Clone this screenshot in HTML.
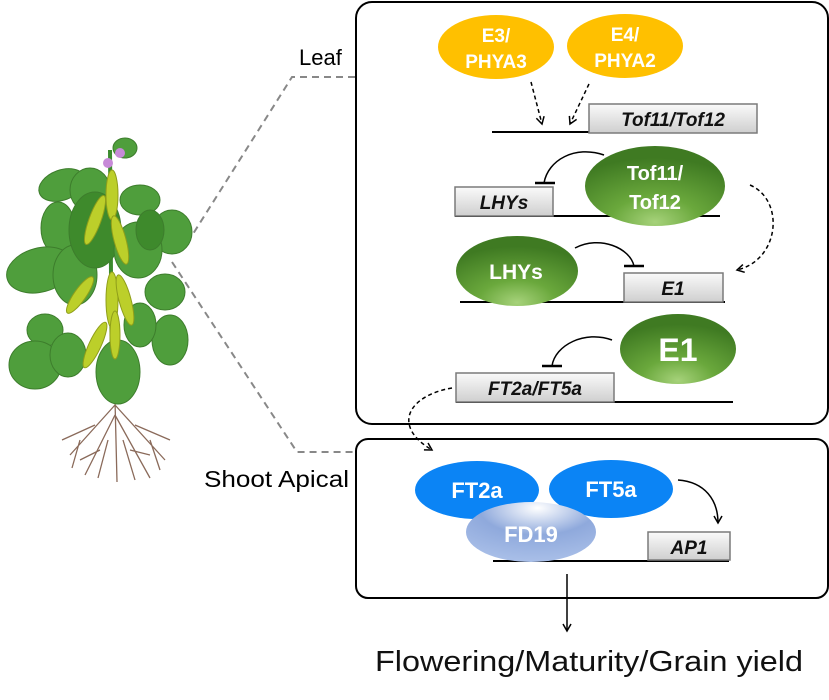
<!DOCTYPE html><html><head><style>body{margin:0;background:#fff}svg{display:block}</style></head><body>
<svg width="829" height="700" viewBox="0 0 829 700" xmlns="http://www.w3.org/2000/svg" font-family="Liberation Sans, sans-serif">
<defs>
<linearGradient id="gb" x1="0" y1="0" x2="0" y2="1"><stop offset="0" stop-color="#fafafa"/><stop offset="1" stop-color="#cfcfcf"/></linearGradient>
<radialGradient id="gg" cx="0.5" cy="0.95" r="0.8"><stop offset="0" stop-color="#a6d27a"/><stop offset="0.4" stop-color="#6aa83c"/><stop offset="1" stop-color="#3f7a22"/></radialGradient>
<radialGradient id="fd" cx="0.55" cy="0.1" r="0.9"><stop offset="0" stop-color="#ffffff"/><stop offset="0.5" stop-color="#8fa9dc"/><stop offset="1" stop-color="#a9bfe8"/></radialGradient>
<marker id="ar" markerWidth="10" markerHeight="10" refX="8" refY="5" orient="auto" markerUnits="userSpaceOnUse"><path d="M1,1 L8,5 L1,9" fill="none" stroke="#000" stroke-width="1.5"/></marker>
</defs>
<rect x="356" y="2" width="472" height="422" rx="16" fill="none" stroke="#000" stroke-width="2"/>
<rect x="356" y="439" width="472" height="159" rx="12" fill="none" stroke="#000" stroke-width="2"/>
<g stroke="#888" stroke-width="2" stroke-dasharray="7,5" fill="none">
<path d="M355,77 L292,77 L186,245"/><path d="M172,262 L297,452 L355,452"/></g>
<text x="299" y="65" font-size="22">Leaf</text>
<text x="204" y="487" font-size="23" textLength="145" lengthAdjust="spacingAndGlyphs">Shoot Apical</text>
<!-- plant -->
<g>
<g stroke="#8a6a5a" stroke-width="1.3" fill="none">
<path d="M115,400 L117,482 M115,405 L70,455 M115,405 L165,460 M115,415 L85,475 M115,415 L150,478 M95,425 L62,440 M135,425 L170,440 M108,440 L98,478 M123,440 L135,480 M80,440 L72,468 M150,440 L160,470 M100,450 L80,460 M130,450 L150,455"/></g>
<path d="M110,150 L112,400" stroke="#3b8a2e" stroke-width="4"/>
<g fill="#4f9e3c" stroke="#3d7d2c" stroke-width="1">
<ellipse cx="62" cy="185" rx="24" ry="15" transform="rotate(-20 62 185)"/><ellipse cx="90" cy="190" rx="20" ry="22"/><ellipse cx="58" cy="228" rx="17" ry="26"/>
<ellipse cx="40" cy="270" rx="34" ry="22" transform="rotate(-15 40 270)"/><ellipse cx="75" cy="275" rx="22" ry="30"/><ellipse cx="95" cy="230" rx="26" ry="38" fill="#3e8a2c"/>
<ellipse cx="140" cy="200" rx="20" ry="15"/><ellipse cx="172" cy="232" rx="20" ry="22"/><ellipse cx="138" cy="250" rx="24" ry="28"/>
<ellipse cx="165" cy="292" rx="20" ry="18"/><ellipse cx="170" cy="340" rx="18" ry="25"/><ellipse cx="140" cy="325" rx="16" ry="22"/>
<ellipse cx="45" cy="330" rx="18" ry="16"/><ellipse cx="35" cy="365" rx="26" ry="24"/><ellipse cx="68" cy="355" rx="18" ry="22"/>
<ellipse cx="118" cy="372" rx="22" ry="32"/><ellipse cx="125" cy="148" rx="12" ry="10"/><ellipse cx="150" cy="230" rx="14" ry="20" fill="#3e8a2c"/></g>
<g fill="#bccf2a" stroke="#8f9e1a" stroke-width="1">
<ellipse cx="95" cy="220" rx="6" ry="26" transform="rotate(20 95 220)"/><ellipse cx="112" cy="195" rx="6" ry="25"/><ellipse cx="120" cy="240" rx="6" ry="25" transform="rotate(-15 120 240)"/>
<ellipse cx="80" cy="295" rx="6" ry="22" transform="rotate(35 80 295)"/><ellipse cx="112" cy="300" rx="6" ry="28"/><ellipse cx="125" cy="300" rx="6" ry="26" transform="rotate(-15 125 300)"/>
<ellipse cx="95" cy="345" rx="6" ry="25" transform="rotate(25 95 345)"/><ellipse cx="115" cy="335" rx="5" ry="24"/></g>
<circle cx="108" cy="163" r="5" fill="#c78ad8"/><circle cx="120" cy="153" r="5" fill="#c78ad8"/>
</g>
<!-- top box content -->
<ellipse cx="496" cy="47" rx="58" ry="32" fill="#ffc000"/>
<ellipse cx="625" cy="46" rx="58" ry="32" fill="#ffc000"/>
<g fill="#fff" font-weight="bold" font-size="19" text-anchor="middle">
<text x="496" y="42">E3/</text><text x="496" y="68">PHYA3</text>
<text x="625" y="41">E4/</text><text x="625" y="67">PHYA2</text></g>
<g stroke="#000" stroke-width="1.5" stroke-dasharray="4,3" fill="none">
<path d="M531,82 L542,124" marker-end="url(#ar)"/><path d="M589,84 L570,124" marker-end="url(#ar)"/>
<path d="M750,185 C785,200 780,260 737,270" marker-end="url(#ar)"/>
<path d="M452,388 C410,395 390,425 432,450" marker-end="url(#ar)"/></g>
<g stroke="#000" stroke-width="2"><line x1="492" y1="132" x2="757" y2="132"/><line x1="455" y1="216" x2="720" y2="216"/><line x1="460" y1="302" x2="725" y2="302"/><line x1="456" y1="402" x2="733" y2="402"/><line x1="493" y1="561" x2="729" y2="561"/></g>
<g fill="url(#gb)" stroke="#7a7a7a" stroke-width="1.5">
<rect x="589" y="104" width="168" height="29"/><rect x="455" y="187" width="98" height="29"/><rect x="624" y="273" width="99" height="29"/><rect x="456" y="373" width="158" height="29"/><rect x="648" y="532" width="82" height="28"/></g>
<g font-weight="bold" font-style="italic" font-size="19" text-anchor="middle" fill="#111">
<text x="673" y="126">Tof11/Tof12</text><text x="504" y="209">LHYs</text><text x="673" y="295">E1</text><text x="535" y="395">FT2a/FT5a</text><text x="689" y="554">AP1</text></g>
<ellipse cx="655" cy="186" rx="70" ry="40" fill="url(#gg)"/>
<ellipse cx="517" cy="271" rx="61" ry="35" fill="url(#gg)"/>
<ellipse cx="678" cy="349" rx="58" ry="35" fill="url(#gg)"/>
<g fill="#fff" font-weight="bold" text-anchor="middle">
<text x="655" y="180" font-size="20">Tof11/</text><text x="655" y="209" font-size="20">Tof12</text>
<text x="516" y="279" font-size="21">LHYs</text><text x="678" y="361" font-size="32">E1</text></g>
<g stroke="#000" stroke-width="1.5" fill="none">
<path d="M604,155 C575,145 548,160 544,183"/><line x1="535" y1="183" x2="555" y2="183" stroke-width="2.5"/>
<path d="M575,248 C600,235 630,248 634,266"/><line x1="624" y1="266" x2="644" y2="266" stroke-width="2.5"/>
<path d="M612,340 C585,330 555,345 552,366"/><line x1="542" y1="366" x2="562" y2="366" stroke-width="2.5"/>
<path d="M678,480 C705,482 718,500 718,523" marker-end="url(#ar)"/>
<line x1="567" y1="574" x2="567" y2="631" marker-end="url(#ar)"/></g>
<ellipse cx="477" cy="490" rx="62" ry="29" fill="#0b84f5"/>
<ellipse cx="611" cy="489" rx="62" ry="29" fill="#0b84f5"/>
<ellipse cx="531" cy="532" rx="65" ry="30" fill="url(#fd)"/>
<g fill="#fff" font-weight="bold" font-size="22" text-anchor="middle">
<text x="477" y="498">FT2a</text><text x="611" y="497">FT5a</text><text x="531" y="542">FD19</text></g>
<text x="375" y="671" font-size="29" fill="#111" textLength="428" lengthAdjust="spacingAndGlyphs">Flowering/Maturity/Grain yield</text>
</svg></body></html>
